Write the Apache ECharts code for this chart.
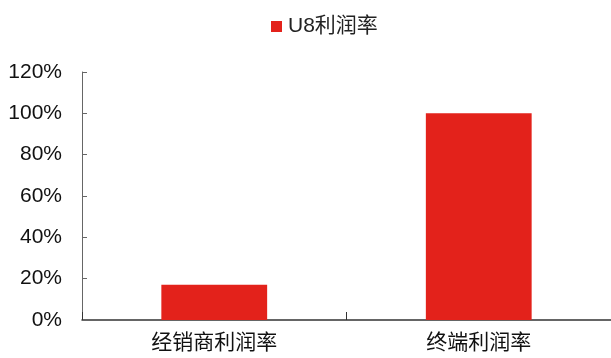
<!DOCTYPE html>
<html>
<head>
<meta charset="utf-8">
<script src="https://cdn.jsdelivr.net/npm/echarts@6/dist/echarts.min.js"></script>
<style>
html,body{margin:0;padding:0;background:#fff;}
#chart{width:611px;height:358px;}
</style>
</head>
<body>
<div id="chart"></div>
<script>
// Profit margin comparison: distributor vs. terminal
const categories = ['经销商利润率', '终端利润率'];
const seriesName = 'U8利润率';
const marginValues = [17, 100];
const yTicks = [0, 20, 40, 60, 80, 100, 120];

const chart = echarts.init(document.getElementById('chart'));
const font = '"Liberation Sans", "Noto Sans CJK SC", sans-serif';
chart.setOption({
  animation: false,
  textStyle: { fontFamily: font },
  legend: {
    data: [{ name: seriesName, icon: 'rect' }],
    left: 266,
    top: 11,
    itemWidth: 11,
    itemHeight: 11,
    itemGap: 6,
    textStyle: { fontSize: 21, color: '#222', fontFamily: font, padding: [0, 0, 0, 1] }
  },
  grid: { left: 82, right: -3, top: 72, bottom: 38, containLabel: false },
  xAxis: {
    type: 'category',
    data: categories,
    axisLine: { lineStyle: { color: '#333', width: 1.5 } },
    axisTick: { show: true, inside: true, length: 8, lineStyle: { color: '#333' } },
    axisLabel: { fontSize: 21, color: '#111', margin: 13, fontFamily: font }
  },
  yAxis: {
    type: 'value',
    min: yTicks[0],
    max: yTicks[yTicks.length - 1],
    interval: 20,
    axisLine: { show: true, lineStyle: { color: '#666' } },
    axisTick: { show: true, inside: true, length: 5, lineStyle: { color: '#666' } },
    splitLine: { show: false },
    axisLabel: { fontSize: 21, color: '#111', margin: 20, formatter: '{value}%', fontFamily: font }
  },
  series: [{
    name: seriesName,
    type: 'bar',
    data: marginValues,
    barWidth: '40%',
    itemStyle: { color: '#e3221b' }
  }]
});
</script>
</body>
</html>
